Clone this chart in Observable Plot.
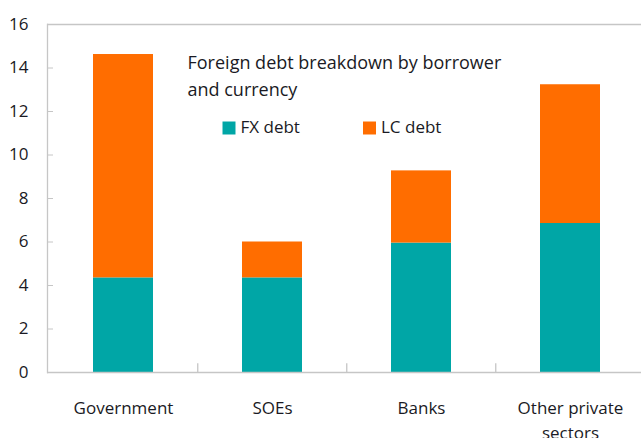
<!DOCTYPE html>
<html>
<head>
<meta charset="utf-8">
<script src="https://cdn.jsdelivr.net/npm/d3@7"></script>
<script src="https://cdn.jsdelivr.net/npm/@observablehq/plot@0.6"></script>
<style>
  html, body { margin: 0; padding: 0; background: #fff; }
  svg { display: block; }
</style>
</head>
<body>
<div id="chart"></div>
<script>
const sectors = ["Government", "SOEs", "Banks", "Other private\nsectors"];
const series = ["FX debt", "LC debt"];
const fxDebt = [4.35, 4.35, 5.95, 6.85];
const lcDebt = [10.27, 1.65, 3.32, 6.38];
const yTicks = [0, 2, 4, 6, 8, 10, 12, 14, 16];
const title = "Foreign debt breakdown by borrower\nand currency";
const colors = ["#00A6A6", "#FF6D00"];

const rows = [];
sectors.forEach((s, i) => {
  rows.push({sector: s, type: series[0], value: fxDebt[i]});
  rows.push({sector: s, type: series[1], value: lcDebt[i]});
});

const W = 641, H = 438, ML = 47, MT = 24, MB = 66;
const xRange = [47, 645];
const step = (xRange[1] - xRange[0]) / sectors.length;
const font = "'Open Sans', sans-serif";
const textColor = "#1a1a24";
const lineColor = "#c6c6c6";

const legendX = [181.5, 322];

const chart = Plot.plot({
  width: W,
  height: H,
  marginLeft: ML,
  marginTop: MT,
  marginBottom: MB,
  marginRight: 0,
  style: {fontFamily: font, fontSize: "17px", color: textColor, background: "#fff"},
  x: {domain: sectors, range: xRange, paddingInner: 0.6, paddingOuter: 0.3, axis: null},
  y: {domain: [0, 16], axis: null},
  color: {domain: series, range: colors},
  marks: [
    Plot.barY(rows, {x: "sector", y: "value", fill: "type", order: series}),
    Plot.frame({anchor: "left", stroke: lineColor, strokeWidth: 1.3}),
    Plot.ruleY([0, 16], {stroke: lineColor, strokeWidth: 1.3}),
    Plot.axisY({ticks: yTicks, tickSize: 0, tickPadding: 19, fontSize: 17, fill: textColor, label: null}),
    Plot.axisY({ticks: yTicks.slice(1, -1), tickSize: -6, tickFormat: () => "", stroke: lineColor, label: null}),
    Plot.ruleX(sectors.slice(1), {x: d => d, y1: 0, y2: 0.4, dx: -step / 2, stroke: lineColor, strokeWidth: 1.3}),
    Plot.axisX({tickSize: 0, tickPadding: 24, fontSize: 17, lineHeight: 1.47, fill: textColor, label: null}),
    Plot.text([title], {text: d => d, frameAnchor: "top-left", dx: 140, dy: 25, lineAnchor: "top", textAnchor: "start", fontSize: 18, lineHeight: 1.5, fill: textColor}),
    ...series.map((s, i) => Plot.dot([s], {frameAnchor: "top-left", dx: legendX[i], dy: 103.5, symbol: "square", r: 7.33, fill: colors[i], stroke: null})),
    ...series.map((s, i) => Plot.text([s], {text: d => d, frameAnchor: "top-left", dx: legendX[i] + 11.5, dy: 103.5, lineAnchor: "middle", textAnchor: "start", fontSize: 17, fill: textColor}))
  ]
});
document.getElementById("chart").append(chart);
</script>
</body>
</html>
